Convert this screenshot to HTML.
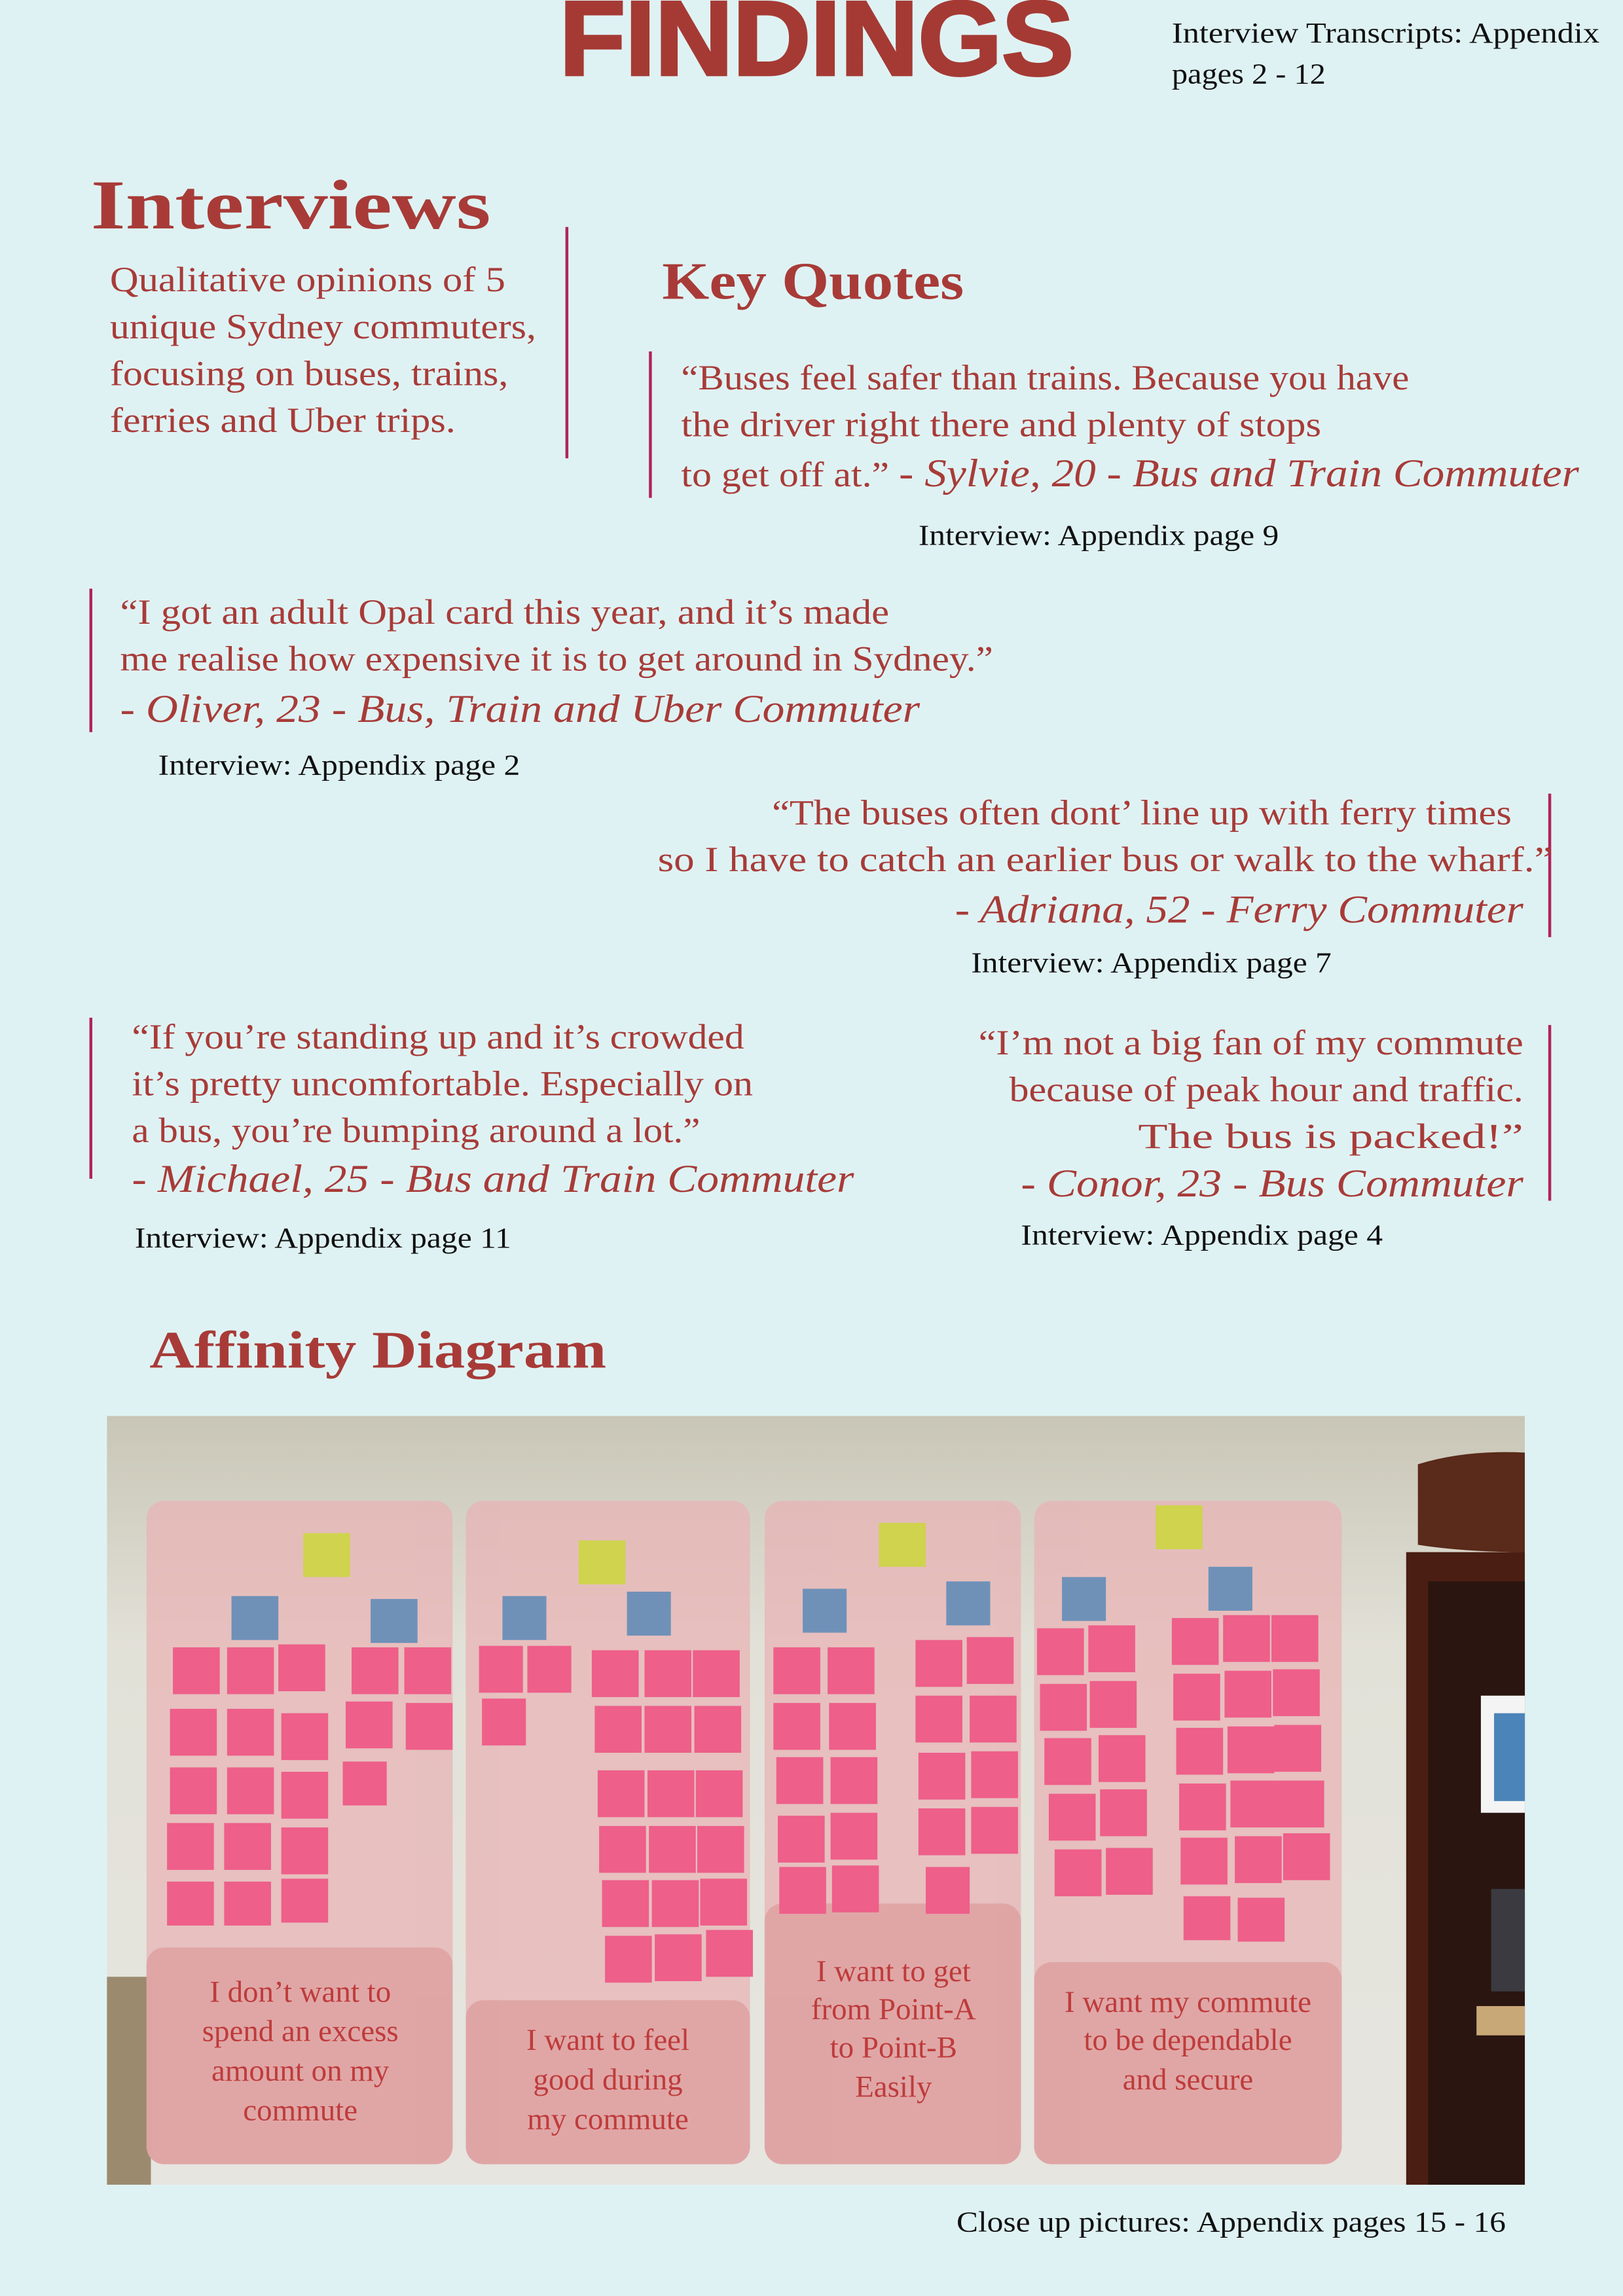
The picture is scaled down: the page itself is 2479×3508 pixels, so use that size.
<!DOCTYPE html>
<html><head><meta charset="utf-8"><style>
html,body{margin:0;padding:0;background:#dff2f3;}
svg{display:block}
</style></head><body>
<svg xmlns="http://www.w3.org/2000/svg" width="2479" height="3508" viewBox="0 0 1108 1568">
<defs>
<linearGradient id="wall" x1="0" y1="0" x2="0" y2="1">
<stop offset="0" stop-color="#c9c6b6"/><stop offset="0.3" stop-color="#e2e1d8"/><stop offset="1" stop-color="#e6e5e0"/>
</linearGradient>
</defs>
<rect width="1108" height="1568" fill="#dff2f3"/>
<g font-family="Liberation Serif, serif" fill="#a83b38">
<text x="382" y="51" font-family="Liberation Sans, sans-serif" font-weight="900" font-size="72" textLength="351" lengthAdjust="spacingAndGlyphs" fill="#a53a34" stroke="#a53a34" stroke-width="2">FINDINGS</text>
<text x="800" y="29" font-size="20" fill="#111" textLength="292" lengthAdjust="spacingAndGlyphs">Interview Transcripts: Appendix</text>
<text x="800" y="57" font-size="20" fill="#111" textLength="105" lengthAdjust="spacingAndGlyphs">pages 2 - 12</text>

<text x="62" y="156" font-size="48" font-weight="bold" textLength="273" lengthAdjust="spacingAndGlyphs">Interviews</text>
<text x="75" y="199" font-size="24" textLength="270" lengthAdjust="spacingAndGlyphs">Qualitative opinions of 5</text>
<text x="75" y="231" font-size="24" textLength="291" lengthAdjust="spacingAndGlyphs">unique Sydney commuters,</text>
<text x="75" y="263" font-size="24" textLength="272" lengthAdjust="spacingAndGlyphs">focusing on buses, trains,</text>
<text x="75" y="295" font-size="24" textLength="236" lengthAdjust="spacingAndGlyphs">ferries and Uber trips.</text>
<rect x="386" y="155" width="2" height="158" fill="#b0245a"/>

<text x="452" y="204" font-size="36" font-weight="bold" textLength="206" lengthAdjust="spacingAndGlyphs">Key Quotes</text>
<rect x="443" y="240" width="2" height="100" fill="#b0245a"/>
<text x="465" y="266" font-size="24" textLength="497" lengthAdjust="spacingAndGlyphs">“Buses feel safer than trains. Because you have</text>
<text x="465" y="298" font-size="24" textLength="437" lengthAdjust="spacingAndGlyphs">the driver right there and plenty of stops</text>
<text x="465" y="332" font-size="24" textLength="613" lengthAdjust="spacingAndGlyphs">to get off at.” <tspan font-style="italic" font-size="27">- Sylvie, 20 - Bus and Train Commuter</tspan></text>
<text x="627" y="372" font-size="20" fill="#111" textLength="246" lengthAdjust="spacingAndGlyphs">Interview: Appendix page 9</text>

<rect x="61" y="402" width="2" height="98" fill="#b0245a"/>
<text x="82" y="426" font-size="24" textLength="525" lengthAdjust="spacingAndGlyphs">“I got an adult Opal card this year, and it’s made</text>
<text x="82" y="458" font-size="24" textLength="596" lengthAdjust="spacingAndGlyphs">me realise how expensive it is to get around in Sydney.”</text>
<text x="82" y="493" font-size="27" font-style="italic" textLength="546" lengthAdjust="spacingAndGlyphs">- Oliver, 23 - Bus, Train and Uber Commuter</text>
<text x="108" y="529" font-size="20" fill="#111" textLength="247" lengthAdjust="spacingAndGlyphs">Interview: Appendix page 2</text>

<rect x="1057" y="542" width="2" height="98" fill="#b0245a"/>
<text x="527" y="563" font-size="24" textLength="505" lengthAdjust="spacingAndGlyphs">“The buses often dont’ line up with ferry times</text>
<text x="449" y="595" font-size="24" textLength="611" lengthAdjust="spacingAndGlyphs">so I have to catch an earlier bus or walk to the wharf.”</text>
<text x="652" y="630" font-size="27" font-style="italic" textLength="388" lengthAdjust="spacingAndGlyphs">- Adriana, 52 - Ferry Commuter</text>
<text x="663" y="664" font-size="20" fill="#111" textLength="246" lengthAdjust="spacingAndGlyphs">Interview: Appendix page 7</text>

<rect x="61" y="695" width="2" height="110" fill="#b0245a"/>
<text x="90" y="716" font-size="24" textLength="418" lengthAdjust="spacingAndGlyphs">“If you’re standing up and it’s crowded</text>
<text x="90" y="748" font-size="24" textLength="424" lengthAdjust="spacingAndGlyphs">it’s pretty uncomfortable. Especially on</text>
<text x="90" y="780" font-size="24" textLength="388" lengthAdjust="spacingAndGlyphs">a bus, you’re bumping around a lot.”</text>
<text x="90" y="814" font-size="27" font-style="italic" textLength="493" lengthAdjust="spacingAndGlyphs">- Michael, 25 - Bus and Train Commuter</text>
<text x="92" y="852" font-size="20" fill="#111" textLength="257" lengthAdjust="spacingAndGlyphs">Interview: Appendix page 11</text>

<rect x="1057" y="700" width="2" height="120" fill="#b0245a"/>
<text x="668" y="720" font-size="24" textLength="372" lengthAdjust="spacingAndGlyphs">“I’m not a big fan of my commute</text>
<text x="689" y="752" font-size="24" textLength="351" lengthAdjust="spacingAndGlyphs">because of peak hour and traffic.</text>
<text x="777" y="784" font-size="24" textLength="263" lengthAdjust="spacingAndGlyphs">The bus is packed!”</text>
<text x="697" y="817" font-size="27" font-style="italic" textLength="343" lengthAdjust="spacingAndGlyphs">- Conor, 23 - Bus Commuter</text>
<text x="697" y="850" font-size="20" fill="#111" textLength="247" lengthAdjust="spacingAndGlyphs">Interview: Appendix page 4</text>

<text x="102" y="934" font-size="36" font-weight="bold" textLength="312" lengthAdjust="spacingAndGlyphs">Affinity Diagram</text>

<!-- photo -->
<rect x="73" y="967" width="968" height="525" fill="url(#wall)"/>
<rect x="73" y="1350" width="30" height="142" fill="#9c8a6e"/>
<!-- furniture -->
<path d="M968 1000 Q1000 990 1041 992 L1041 1060 Q1000 1060 968 1055 Z" fill="#5a2a1a"/>
<rect x="960" y="1060" width="81" height="432" fill="#4a1e12"/>
<rect x="975" y="1080" width="66" height="412" fill="#2a1510"/>
<rect x="1011" y="1158" width="30" height="80" fill="#f4f4f4"/>
<rect x="1020" y="1170" width="21" height="60" fill="#4b84b8"/>
<rect x="1018" y="1290" width="23" height="70" fill="#3a3a40"/>
<rect x="1008" y="1370" width="33" height="20" fill="#c9a878"/>

<g fill="#e8b4b6" opacity="0.75">
<rect x="100" y="1025" width="209" height="453" rx="12"/>
<rect x="318" y="1025" width="194" height="453" rx="12"/>
<rect x="522" y="1025" width="175" height="453" rx="12"/>
<rect x="706" y="1025" width="210" height="453" rx="12"/>
</g>
<g fill="#dfa3a3" opacity="0.9">
<rect x="100" y="1330" width="209" height="148" rx="12"/>
<rect x="318" y="1366" width="194" height="112" rx="12"/>
<rect x="522" y="1300" width="175" height="178" rx="12"/>
<rect x="706" y="1340" width="210" height="138" rx="12"/>
</g>
<g fill="#cfd34e">
<rect x="207" y="1047" width="32" height="30"/><rect x="395" y="1052" width="32" height="30"/>
<rect x="600" y="1040" width="32" height="30"/><rect x="789" y="1028" width="32" height="30"/>
</g>
<g fill="#6f91b8">
<rect x="158" y="1090" width="32" height="30"/><rect x="253" y="1092" width="32" height="30"/>
<rect x="343" y="1090" width="30" height="30"/><rect x="428" y="1087" width="30" height="30"/>
<rect x="548" y="1085" width="30" height="30"/><rect x="646" y="1080" width="30" height="30"/>
<rect x="725" y="1077" width="30" height="30"/><rect x="825" y="1070" width="30" height="30"/>
</g>
<g fill="#ee5f8a">
<rect x="118" y="1125" width="32" height="32"/><rect x="155" y="1125" width="32" height="32"/><rect x="190" y="1123" width="32" height="32"/>
<rect x="116" y="1167" width="32" height="32"/><rect x="155" y="1167" width="32" height="32"/><rect x="192" y="1170" width="32" height="32"/>
<rect x="116" y="1207" width="32" height="32"/><rect x="155" y="1207" width="32" height="32"/><rect x="192" y="1210" width="32" height="32"/>
<rect x="114" y="1245" width="32" height="32"/><rect x="153" y="1245" width="32" height="32"/><rect x="192" y="1248" width="32" height="32"/>
<rect x="114" y="1285" width="32" height="30"/><rect x="153" y="1285" width="32" height="30"/><rect x="192" y="1283" width="32" height="30"/>
<rect x="240" y="1125" width="32" height="32"/><rect x="276" y="1125" width="32" height="32"/>
<rect x="236" y="1162" width="32" height="32"/><rect x="277" y="1163" width="32" height="32"/>
<rect x="234" y="1203" width="30" height="30"/>
<rect x="327" y="1124" width="30" height="32"/><rect x="360" y="1124" width="30" height="32"/><rect x="329" y="1160" width="30" height="32"/>
<rect x="404" y="1127" width="32" height="32"/><rect x="440" y="1127" width="32" height="32"/><rect x="473" y="1127" width="32" height="32"/>
<rect x="406" y="1165" width="32" height="32"/><rect x="440" y="1165" width="32" height="32"/><rect x="474" y="1165" width="32" height="32"/>
<rect x="408" y="1209" width="32" height="32"/><rect x="442" y="1209" width="32" height="32"/><rect x="475" y="1209" width="32" height="32"/>
<rect x="409" y="1247" width="32" height="32"/><rect x="443" y="1247" width="32" height="32"/><rect x="476" y="1247" width="32" height="32"/>
<rect x="411" y="1284" width="32" height="32"/><rect x="445" y="1284" width="32" height="32"/><rect x="478" y="1283" width="32" height="32"/>
<rect x="413" y="1322" width="32" height="32"/><rect x="447" y="1321" width="32" height="32"/><rect x="482" y="1318" width="32" height="32"/>
<rect x="528" y="1125" width="32" height="32"/><rect x="565" y="1125" width="32" height="32"/>
<rect x="528" y="1163" width="32" height="32"/><rect x="566" y="1163" width="32" height="32"/>
<rect x="530" y="1200" width="32" height="32"/><rect x="567" y="1200" width="32" height="32"/>
<rect x="531" y="1240" width="32" height="32"/><rect x="567" y="1238" width="32" height="32"/>
<rect x="532" y="1275" width="32" height="32"/><rect x="568" y="1274" width="32" height="32"/>
<rect x="625" y="1120" width="32" height="32"/><rect x="660" y="1118" width="32" height="32"/>
<rect x="625" y="1158" width="32" height="32"/><rect x="662" y="1158" width="32" height="32"/>
<rect x="627" y="1197" width="32" height="32"/><rect x="663" y="1196" width="32" height="32"/>
<rect x="627" y="1235" width="32" height="32"/><rect x="663" y="1234" width="32" height="32"/>
<rect x="632" y="1275" width="30" height="32"/>
<rect x="708" y="1112" width="32" height="32"/><rect x="743" y="1110" width="32" height="32"/>
<rect x="710" y="1150" width="32" height="32"/><rect x="744" y="1148" width="32" height="32"/>
<rect x="713" y="1187" width="32" height="32"/><rect x="750" y="1185" width="32" height="32"/>
<rect x="716" y="1225" width="32" height="32"/><rect x="751" y="1222" width="32" height="32"/>
<rect x="720" y="1263" width="32" height="32"/><rect x="755" y="1262" width="32" height="32"/>
<rect x="800" y="1105" width="32" height="32"/><rect x="835" y="1103" width="32" height="32"/><rect x="868" y="1103" width="32" height="32"/>
<rect x="801" y="1143" width="32" height="32"/><rect x="836" y="1141" width="32" height="32"/><rect x="869" y="1140" width="32" height="32"/>
<rect x="803" y="1180" width="32" height="32"/><rect x="838" y="1179" width="32" height="32"/><rect x="870" y="1178" width="32" height="32"/>
<rect x="805" y="1218" width="32" height="32"/><rect x="840" y="1216" width="32" height="32"/><rect x="872" y="1216" width="32" height="32"/>
<rect x="806" y="1255" width="32" height="32"/><rect x="843" y="1254" width="32" height="32"/><rect x="876" y="1252" width="32" height="32"/>
<rect x="808" y="1295" width="32" height="30"/><rect x="845" y="1296" width="32" height="30"/>
</g>
<g font-size="21" text-anchor="middle" fill="#bf3b3b">
<text x="205" y="1367">I don’t want to</text><text x="205" y="1394">spend an excess</text><text x="205" y="1421">amount on my</text><text x="205" y="1448">commute</text>
<text x="415" y="1400">I want to feel</text><text x="415" y="1427">good during</text><text x="415" y="1454">my commute</text>
<text x="610" y="1353">I want to get</text><text x="610" y="1379">from Point-A</text><text x="610" y="1405">to Point-B</text><text x="610" y="1432">Easily</text>
<text x="811" y="1374">I want my commute</text><text x="811" y="1400">to be dependable</text><text x="811" y="1427">and secure</text>
</g>

<text x="653" y="1524" font-size="20" fill="#111" textLength="375" lengthAdjust="spacingAndGlyphs">Close up pictures: Appendix pages 15 - 16</text>
</g>
</svg>
</body></html>
